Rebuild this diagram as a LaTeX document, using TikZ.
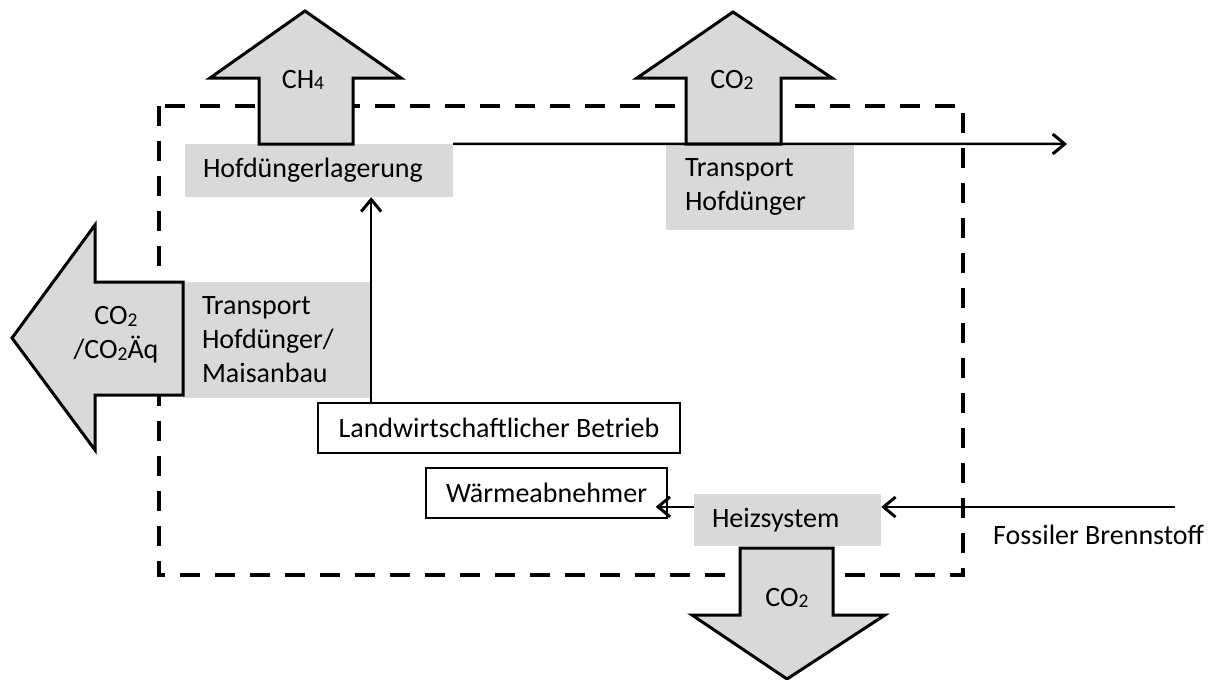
\documentclass[tikz,border=0pt]{standalone}
\usepackage{fontspec}
\setmainfont{Carlito}
\usetikzlibrary{arrows.meta}
\definecolor{boxgray}{RGB}{217,217,217}
\newcommand{\sbs}[1]{\raisebox{-1.5pt}{\fontsize{19.5}{19.5}\selectfont #1}}
\begin{document}
\begin{tikzpicture}[x=1pt,y=-1pt,
  every node/.style={font=\fontsize{28}{34}\selectfont},
  graybox/.style={fill=boxgray, draw=none, inner ysep=0pt, align=left},
  whitebox/.style={fill=white, draw=black, line width=1.5pt, inner sep=0pt, align=center},
  blockarrow/.style={fill=boxgray, draw=black, line width=3pt, line join=miter},
  conn/.style={draw=black, line width=2.5pt, -{Straight Barb[length=12pt,width=20pt,line width=3pt]}},
  lbl/.style={inner sep=0pt, align=center}]
\useasboundingbox (0,0) rectangle (1221,680);
% system boundary
\draw[line width=4pt, dash pattern=on 20pt off 15pt] (159,106) rectangle (963,575);
% gray process boxes
\node[graybox, minimum width=268pt, minimum height=53pt, text width=232pt, inner xsep=18pt] (hofl) at (319,170.5) {Hofdüngerlagerung};
\node[graybox, minimum width=188pt, minimum height=86pt, text width=150pt, inner xsep=19pt] (trans1) at (760,187) {Transport\\Hofdünger};
\node[graybox, minimum width=188pt, minimum height=116pt, text width=150pt, inner xsep=19pt] (trans2) at (277,340) {Transport\\Hofdünger/\\Maisanbau};
\node[graybox, minimum width=187pt, minimum height=52pt, text width=151pt, inner xsep=18pt] (heiz) at (787.5,520) {Heizsystem};
% white boxes
\node[whitebox, minimum width=362pt, minimum height=50pt] (landw) at (499,428) {Landwirtschaftlicher Betrieb};
\node[whitebox, minimum width=241pt, minimum height=50pt] (waerme) at (546.5,493) {Wärmeabnehmer};
% block arrows
\draw[blockarrow] (259,144) -- (259,78) -- (210,78) -- (305,11) -- (401,78) -- (353,78) -- (353,144) -- cycle;
\node[lbl] (ch4) at (303,80) {CH\sbs{4}};
\draw[blockarrow] (686,144) -- (686,78) -- (637,78) -- (733,12) -- (832,78) -- (781,78) -- (781,144) -- cycle;
\node[lbl] (co2top) at (732,80) {CO\sbs{2}};
\draw[blockarrow] (183,282) -- (95,282) -- (95,225) -- (12,338) -- (95,450) -- (95,395) -- (183,395) -- cycle;
\node[lbl] (co2left) at (116,335) {CO\sbs{2}\\/CO\sbs{2}Äq};
\draw[blockarrow] (740,548) -- (833,548) -- (833,615) -- (885,615) -- (787,679) -- (692,615) -- (740,615) -- cycle;
\node[lbl] (co2bot) at (787,598) {CO\sbs{2}};
% connectors
\coordinate (outright) at (1067,144);
\coordinate (fossil) at (1175,507);
\draw[conn] (landw.north -| trans2.east) -- (hofl.south -| trans2.east);
\draw[conn] (hofl.north east) -- (outright);
\draw[conn] ([yshift=-13pt]heiz.north west) -- ([yshift=-13pt,xshift=-12pt]heiz.north west -| waerme.east);
\draw[conn] (fossil) -- (fossil -| heiz.east);
\node[anchor=west, inner sep=0pt] (fosl) at (993,535) {Fossiler Brennstoff};
\end{tikzpicture}
\end{document}
